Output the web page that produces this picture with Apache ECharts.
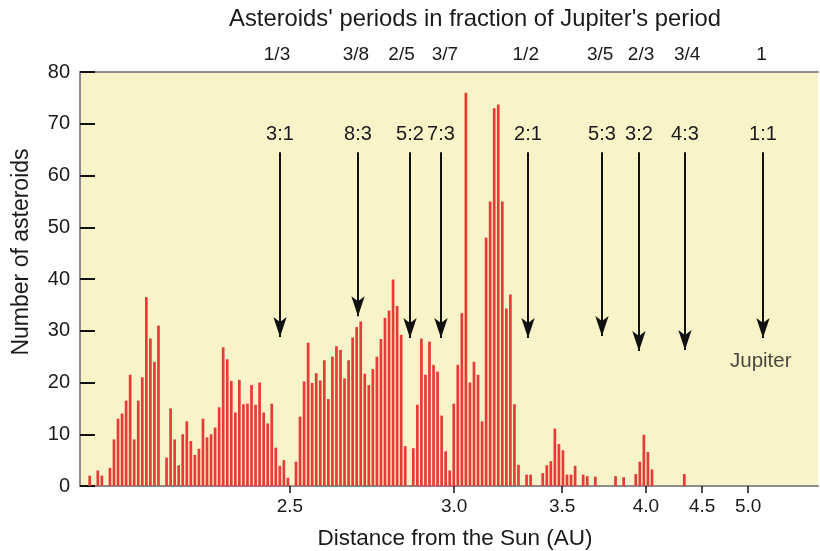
<!DOCTYPE html>
<html><head><meta charset="utf-8">
<script src="https://cdn.jsdelivr.net/npm/echarts@6/dist/echarts.min.js"></script>
<style>html,body{margin:0;padding:0;background:#fff}#c{width:820px;height:551px}</style>
</head><body><div id="c"></div>
<script>
// Number of asteroids per distance bin (bin index = position along the axis)
const counts = [
  2, 0, 3, 2, 0, 3.5, 9, 13, 14, 16.5,
  21.5, 9, 16.5, 21, 36.5, 28.5, 24, 31, 0, 5.5,
  15, 9, 4, 10, 12.5, 8.7, 6, 7.2, 13, 9.4,
  10, 11.3, 15.2, 26.8, 24.5, 20.3, 14.2, 20.5, 15.8, 15.9,
  19.5, 15.7, 20, 14.2, 12.1, 15.9, 7.4, 3.9, 5, 1.6,
  0, 4.7, 13.4, 20.2, 27.7, 19.9, 21.8, 20.4, 24.3, 16.8,
  25, 27, 26.3, 20.8, 24.3, 28.7, 30.7, 31.8, 21.7, 19.5,
  22.6, 25, 28.4, 32.5, 33.9, 39.9, 34.8, 29.2, 7.7, 0,
  7.3, 15.7, 28.5, 21.5, 27.9, 23.4, 22.1, 13.6, 6.7, 3,
  15.9, 23.4, 33.4, 76, 20, 24, 21.5, 12.5, 48, 55,
  73, 73.7, 55, 34.3, 37, 15.8, 4.1, 0, 2.2, 2.2,
  0, 0, 2.5, 4, 4.8, 11.1, 8.1, 6.9, 2.2, 2.2,
  3.9, 0, 2.2, 1.9, 0, 1.8, 0, 0, 0, 0,
  1.9, 0, 1.7, 0, 0, 2.3, 4.7, 9.9, 6.6, 3.2,
  0, 0, 0, 0, 0, 0, 0, 2.3
];
// Bottom axis: distance from the Sun (AU), placed in bin units
const distanceLabels = ['2.5', '3.0', '3.5', '4.0', '4.5', '5.0'];
const distanceBins = [49.5, 90.1, 116.8, 137.5, 151.4, 162.8];
// Top axis: period as fraction of Jupiter's period
const periodLabels = ['1/3', '3/8', '2/5', '3/7', '1/2', '3/5', '2/3', '3/4', '1'];
const periodBins = [46.3, 65.8, 77.1, 87.8, 107.8, 126.2, 136.3, 147.7, 166.1];
// Resonance arrows
const resonanceLabels = ['3:1', '8:3', '5:2', '7:3', '2:1', '5:3', '3:2', '4:3', '1:1'];
const resonanceBins = [47.05, 66.33, 79.18, 86.84, 108.36, 126.64, 135.79, 147.16, 166.45];
const arrowTips = [28.8, 32.8, 28.6, 28.6, 28.6, 29, 26.1, 26.3, 28.6];
const arrowTop = 64.5;
const jupiterLabel = 'Jupiter';
const jupiterPos = [165.9, 24];

const X_MIN = -2.4, X_MAX = 180.05;
const FONT = 'Liberation Sans';
const TXT = '#1a1a1a';

function lookup(bins, labels) {
  return function (v) {
    for (let i = 0; i < bins.length; i++) if (Math.abs(bins[i] - v) < 1e-6) return labels[i];
    return '';
  };
}

const barData = [];
counts.forEach((v, i) => { if (v > 0) barData.push([i, v]); });

const chart = echarts.init(document.getElementById('c'), null, { renderer: 'canvas' });
chart.setOption({
  animation: false,
  textStyle: { fontFamily: FONT },
  graphic: [{
    type: 'text', x: 475, y: 7,
    style: { text: "Asteroids' periods in fraction of Jupiter's period", font: '23.8px ' + FONT, fill: TXT, align: 'center', textAlign: 'center' }
  }, {
    type: 'text', x: 22, y: 252, rotation: Math.PI / 2,
    style: { text: 'Number of asteroids', font: '23px ' + FONT, fill: TXT, align: 'center', verticalAlign: 'middle', textAlign: 'center', textVerticalAlign: 'middle' }
  }],
  grid: { left: 80, right: 2, top: 72, bottom: 65, outerBoundsMode: 'none', containLabel: false, show: true, backgroundColor: '#f9f3c9', borderWidth: 0 },
  xAxis: [{
    type: 'value', position: 'bottom', min: X_MIN, max: X_MAX,
    axisLine: { show: true, onZero: false, lineStyle: { color: '#8d8d8d', width: 2 } },
    axisTick: { show: true, customValues: distanceBins, length: 7, lineStyle: { color: '#111', width: 1.5 } },
    axisLabel: { customValues: distanceBins, formatter: lookup(distanceBins, distanceLabels), fontSize: 19, color: TXT, margin: 11 },
    splitLine: { show: false },
    name: 'Distance from the Sun (AU)', nameLocation: 'middle', nameGap: 41,
    nameTextStyle: { fontSize: 22.5, color: TXT, padding: [0, 0, 0, 12] }
  }, {
    type: 'value', position: 'top', min: X_MIN, max: X_MAX,
    axisLine: { show: true, onZero: false, lineStyle: { color: '#8d8d8d', width: 2 } },
    axisTick: { show: false },
    axisLabel: { customValues: periodBins, formatter: lookup(periodBins, periodLabels), fontSize: 19, color: TXT, margin: 8 },
    splitLine: { show: false }
  }],
  yAxis: {
    type: 'value', min: 0, max: 80, interval: 10,
    axisLine: { show: true, onZero: false, lineStyle: { color: '#8d8d8d', width: 2 } },
    axisTick: { show: true, inside: true, length: 15, lineStyle: { color: '#111', width: 2 } },
    axisLabel: { fontSize: 20, color: TXT, margin: 10 },
    splitLine: { show: false }
  },
  series: [{
    type: 'bar', xAxisIndex: 0, data: barData, barWidth: 2.7,
    itemStyle: { color: '#e63b36' },
    markLine: {
      silent: true, symbol: ['none', 'arrow'], symbolSize: [10, 20],
      lineStyle: { color: '#111', width: 2, type: 'solid' },
      label: { show: true, position: 'start', formatter: '{b}', fontSize: 20, color: TXT, distance: 8 },
      data: resonanceBins.map((b, i) => [
        { coord: [b, arrowTop], name: resonanceLabels[i] },
        { coord: [b, arrowTips[i]] }
      ])
    }
  }, {
    type: 'scatter', xAxisIndex: 0, data: [jupiterPos], symbolSize: 0, silent: true,
    label: { show: true, position: 'inside', formatter: jupiterLabel, fontSize: 20.5, color: TXT }
  }]
});
</script></body></html>
